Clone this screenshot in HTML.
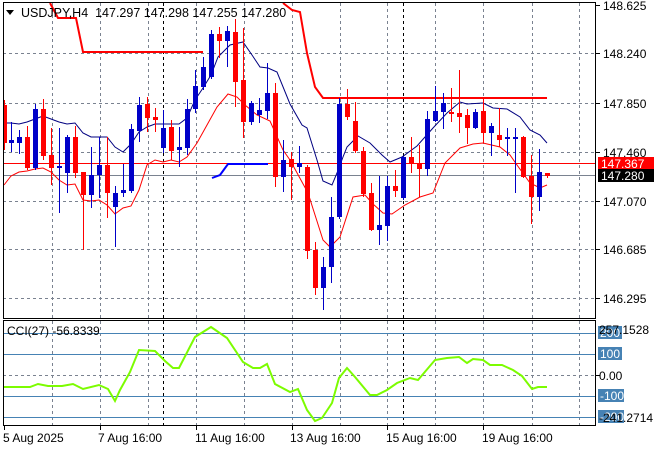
<!DOCTYPE html>
<html><head><meta charset="utf-8"><style>
html,body{margin:0;padding:0;background:#fff;}
svg{display:block;font-family:"Liberation Sans","DejaVu Sans",sans-serif;}
</style></head><body>
<svg width="660" height="450" viewBox="0 0 660 450" xmlns="http://www.w3.org/2000/svg">
<rect width="660" height="450" fill="#fff"/>
<g stroke="#7a8290" stroke-dasharray="3,3" stroke-width="1">
<line x1="3" y1="53.5" x2="596" y2="53.5"/><line x1="3" y1="103.5" x2="596" y2="103.5"/><line x1="3" y1="152.5" x2="596" y2="152.5"/><line x1="3" y1="201.5" x2="596" y2="201.5"/><line x1="3" y1="249.5" x2="596" y2="249.5"/><line x1="3" y1="298.5" x2="596" y2="298.5"/>
<line x1="3" y1="375.5" x2="596" y2="375.5"/>
</g>
<g stroke="#7a8290" stroke-dasharray="3,3">
<path d="M52.5 3V318M100.5 3V318M148.5 3V318M196.5 3V318M244.5 3V318M292.5 3V318M340.5 3V318M387.5 3V318M435.5 3V318M483.5 3V318M532.5 3V318M579.5 3V318"/>
<path d="M52.5 321V425M100.5 321V425M148.5 321V425M196.5 321V425M244.5 321V425M292.5 321V425M340.5 321V425M387.5 321V425M435.5 321V425M483.5 321V425M532.5 321V425M579.5 321V425"/>
</g>
<g stroke="#000" stroke-dasharray="3,3"><path d="M163.5 3V318M403.5 3V318M163.5 321V425M403.5 321V425"/></g>
<line x1="3" y1="163.5" x2="596" y2="163.5" stroke="#ff0000"/>
<line x1="3" y1="175.5" x2="596" y2="175.5" stroke="#7a8290"/>
<polyline fill="none" stroke="#ff0000" stroke-width="2" points="50,3 58,18 76,18 83,52 203,52"/>
<polyline fill="none" stroke="#ff0000" stroke-width="2" points="283,3 292,10 300,12 307,53 315,87 323,98 547,98"/>
<polyline fill="none" stroke="#0000ff" stroke-width="2" points="212,178 220,175 228,164 268,164"/>
<polyline fill="none" stroke="#000080" stroke-width="1" points="4,123 11,123 19,124 27,122 35,119 43,116 51,119 59,122 67,124 75,123 83,133 91,137 99,137 107,137 115,147 123,152 131,144 139,132 147,127 155,124 163,124 171,124 179,124 187,118 195,100 203,88 211,75 218,57 230,45 243,42 252,55 260,67 268,68 277,72 290,104 302,125 307,128 317,160 323,181 332,185 337,173 343,157 347,147 358,136 370,143 382,155 390,162 402,157 417,146 433,128 447,113 460,102 467,104 483,103 493,108 507,109 520,117 530,130 540,135 547,143"/>
<polyline fill="none" stroke="#ff0000" stroke-width="1" points="4,185 11,176 19,172 27,171 35,169 43,168 51,172 59,180 67,185 75,184 83,200 91,201 99,200 107,205 115,214 123,208 131,206 139,190 147,165 155,160 163,162 171,160 179,162 187,157 197,143 207,125 217,107 228,94 237,97 245,105 257,115 270,121 283,150 290,160 308,193 323,240 330,247 340,237 353,197 365,195 373,204 383,213 392,214 405,205 420,197 433,193 445,163 460,148 473,144 483,143 500,147 510,155 517,165 530,183 540,188 547,185"/>
<g stroke-width="1">
<g stroke="#ff0000" fill="#ff0000">
<path d="M4.5 100V150M27.5 126V170M43.5 99V160M51.5 128V185M75.5 126V178M83.5 172V250M107.5 137V218M147.5 97V132M155.5 108V132M171.5 120V160M219.5 27V58M235.5 19V107M243.5 28V138M275.5 83V187M291.5 152V200M307.5 165V259M315.5 242V295M347.5 89V120M355.5 102V153M363.5 147V197M371.5 183V231M395.5 170V197M411.5 137V173M419.5 145V197M451.5 88V122M459.5 70V133M467.5 109V144M483.5 98V143M499.5 108V147M523.5 136V178M531.5 155V224M547.5 173V178"/>
</g>
<g fill="#ff0000">
<rect x="3" y="105" width="4" height="38"/><rect x="25" y="137" width="5" height="31"/><rect x="41" y="109" width="5" height="47"/><rect x="49" y="155" width="5" height="13"/><rect x="73" y="137" width="5" height="36"/><rect x="81" y="172" width="5" height="23"/><rect x="105" y="165" width="5" height="28"/><rect x="145" y="104" width="5" height="14"/><rect x="153" y="117" width="5" height="3"/><rect x="169" y="127" width="5" height="24"/><rect x="217" y="34" width="5" height="7"/><rect x="233" y="32" width="5" height="50"/><rect x="241" y="80" width="5" height="42"/><rect x="273" y="93" width="5" height="84"/><rect x="289" y="159" width="5" height="8"/><rect x="305" y="167" width="5" height="84"/><rect x="313" y="250" width="5" height="38"/><rect x="345" y="104" width="5" height="13"/><rect x="353" y="121" width="5" height="30"/><rect x="361" y="151" width="5" height="43"/><rect x="369" y="193" width="5" height="37"/><rect x="393" y="186" width="5" height="5"/><rect x="409" y="157" width="5" height="7"/><rect x="417" y="163" width="5" height="6"/><rect x="449" y="112" width="5" height="2"/><rect x="457" y="113" width="5" height="4"/><rect x="465" y="115" width="5" height="13"/><rect x="481" y="111" width="5" height="22"/><rect x="497" y="135" width="5" height="5"/><rect x="521" y="137" width="5" height="40"/><rect x="529" y="176" width="5" height="21"/><rect x="545" y="173" width="5" height="3"/>
</g>
<g stroke="#0000c8">
<path d="M11.5 122V152M19.5 130V154M35.5 104V170M59.5 128V213M67.5 135V193M91.5 147V208M99.5 137V198M115.5 186V247M123.5 164V197M131.5 124V193M139.5 97V142M163.5 110V153M179.5 127V167M187.5 99V155M195.5 70V113M203.5 57V90M211.5 30V79M227.5 26V67M251.5 101V125M259.5 98V123M267.5 63V119M283.5 140V192M299.5 146V173M323.5 257V310M331.5 197V283M339.5 98V219M379.5 176V245M387.5 176V241M403.5 156V200M427.5 111V176M435.5 86V122M443.5 93V129M475.5 109V129M491.5 123V156M507.5 128V156M515.5 128V193M539.5 149V211"/>
</g>
<g fill="#0000c8">
<rect x="9" y="140" width="5" height="3"/><rect x="17" y="137" width="5" height="6"/><rect x="33" y="109" width="5" height="59"/><rect x="57" y="166" width="5" height="2"/><rect x="65" y="137" width="5" height="36"/><rect x="89" y="175" width="5" height="20"/><rect x="97" y="165" width="5" height="10"/><rect x="113" y="193" width="5" height="14"/><rect x="121" y="190" width="5" height="3"/><rect x="129" y="129" width="5" height="62"/><rect x="137" y="105" width="5" height="26"/><rect x="161" y="128" width="5" height="20"/><rect x="177" y="147" width="5" height="3"/><rect x="185" y="109" width="5" height="39"/><rect x="193" y="86" width="5" height="23"/><rect x="201" y="67" width="5" height="20"/><rect x="209" y="34" width="5" height="43"/><rect x="225" y="31" width="5" height="10"/><rect x="249" y="103" width="5" height="19"/><rect x="257" y="110" width="5" height="5"/><rect x="265" y="93" width="5" height="18"/><rect x="281" y="160" width="5" height="17"/><rect x="297" y="163" width="5" height="4"/><rect x="321" y="267" width="5" height="21"/><rect x="329" y="217" width="5" height="50"/><rect x="337" y="104" width="5" height="113"/><rect x="377" y="225" width="5" height="5"/><rect x="385" y="186" width="5" height="40"/><rect x="401" y="157" width="5" height="41"/><rect x="425" y="119" width="5" height="50"/><rect x="433" y="111" width="5" height="10"/><rect x="441" y="103" width="5" height="9"/><rect x="473" y="112" width="5" height="16"/><rect x="489" y="126" width="5" height="7"/><rect x="505" y="137" width="5" height="2"/><rect x="513" y="137" width="5" height="2"/><rect x="537" y="172" width="5" height="25"/>
</g>
</g>
<polygon points="6,10 14,10 10,15" fill="#000"/>
<text x="21" y="17" font-size="12.5" fill="#000" style="white-space:pre" xml:space="preserve">USDJPY,H4  147.297 147.298 147.255 147.280</text>
<g stroke="#4682b4"><path d="M3 333.5H596M3 354.5H596M3 396.5H596M3 417.5H596"/></g>
<polyline fill="none" stroke="#7cfc00" stroke-width="2" points="3,387 30,387 38,384 48,386 62,386 73,384 83,389 99,385 108,389 115,401 120,390 130,372 139,350 155,351 165,361 173,368 179,368 195,337 211,327 227,338 243,362 253,368 260,368 267,364 275,384 290,392 298,389 307,410 315,421 322,418 332,403 339,378 347,368 355,377 370,395 377,395 387,390 397,383 410,378 418,380 435,360 447,358 459,357 467,363 473,359 483,360 490,365 502,365 513,370 522,376 532,389 538,387 547,387"/>
<text x="7" y="335" font-size="12" fill="#000">CCI(27) -56.8339</text>
<rect x="3.5" y="2.5" width="592" height="316" fill="none" stroke="#000"/>
<rect x="3.5" y="320.5" width="592" height="105" fill="none" stroke="#000"/>
<g stroke="#000"><path d="M596 5.5h4M596 53.5h4M596 103.5h4M596 152.5h4M596 201.5h4M596 249.5h4M596 298.5h4M596 375.5h4"/></g>
<g font-size="12" fill="#000">
<text x="603" y="10">148.625</text><text x="603" y="58">148.240</text><text x="603" y="108">147.850</text><text x="603" y="157">147.460</text><text x="603" y="206">147.070</text><text x="603" y="254">146.685</text><text x="603" y="303">146.295</text>
</g>
<rect x="598" y="157" width="56" height="13" fill="#ff0000"/>
<text x="601" y="168" font-size="12" fill="#fff">147.367</text>
<rect x="598" y="169" width="56" height="13" fill="#000"/>
<text x="601" y="180" font-size="12" fill="#fff">147.280</text>
<g fill="#4682b4"><rect x="598" y="326" width="24" height="13"/><rect x="598" y="347" width="24" height="13"/><rect x="598" y="389" width="26" height="13"/><rect x="598" y="410" width="26" height="13"/></g>
<g font-size="12">
<text x="600" y="337" fill="#fff">200</text><text x="600" y="358" fill="#fff">100</text><text x="600" y="400" fill="#fff">-100</text><text x="600" y="421" fill="#fff">-200</text>
<text x="599" y="334" fill="#000">257.1528</text><text x="599" y="422" fill="#000">-241.2714</text>
<text x="599" y="380" fill="#000">0.00</text>
</g>
<g stroke="#000"><path d="M4.5 426v4M100.5 426v4M196.5 426v4M292.5 426v4M387.5 426v4M483.5 426v4"/></g>
<g font-size="12" fill="#000">
<text x="3" y="442">5 Aug 2025</text><text x="98" y="442">7 Aug 16:00</text><text x="195" y="442">11 Aug 16:00</text><text x="290" y="442">13 Aug 16:00</text><text x="386" y="442">15 Aug 16:00</text><text x="482" y="442">19 Aug 16:00</text>
</g>
</svg>
</body></html>
